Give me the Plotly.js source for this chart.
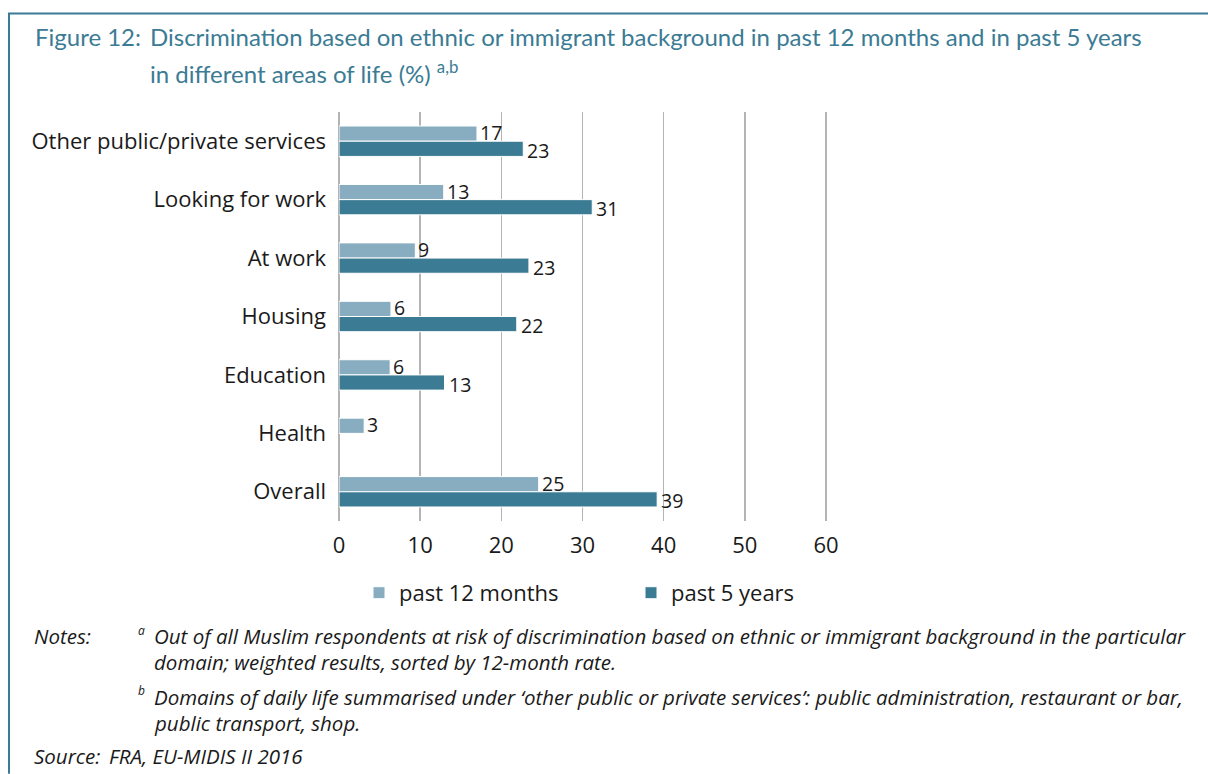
<!DOCTYPE html>
<html>
<head>
<meta charset="utf-8">
<script src="https://cdn.plot.ly/plotly-3.0.1.min.js"></script>
<style>
  html, body { margin: 0; padding: 0; background: #ffffff; }
  #chart { width: 1208px; height: 774px; }
</style>
</head>
<body>
<div id="chart"></div>
<script>
// ---- data ----
const categories = [
  "Other public/private services",
  "Looking for work",
  "At work",
  "Housing",
  "Education",
  "Health",
  "Overall"
];
const past12Months = [17.0, 12.9, 9.4, 6.4, 6.3, 3.1, 24.6];
const past12Labels = ["17", "13", "9", "6", "6", "3", "25"];
const past5Years = [22.7, 31.2, 23.4, 21.9, 13.0, null, 39.2];
const past5Labels = ["23", "31", "23", "22", "13", null, "39"];
const seriesNames = ["past 12 months", "past 5 years"];
const xTicks = [0, 10, 20, 30, 40, 50, 60];

// ---- layout helpers (pixel -> paper) ----
const L = 339, R = 832, T = 111.5, B = 521;
const W = 1208, H = 774;
const unitPx = (826 - 339) / 60;       // pixels per percentage point
const xMax = (R - L) / unitPx;          // so that 60 sits a little inside the plot edge
const px = x => (x - L) / (R - L);
const py = y => (B - y) / (B - T);
const bargap = 0.48;
const bandPx = (B - T) / categories.length;
const barPx = bandPx * (1 - bargap) / 2;

const teal = "#3b7b94";
const light = "#88adc0";
const textCol = "#1a1a1a";

const labelFont = { family: "Open Sans", size: 19.5, color: textCol };

const traces = [
  {
    type: "bar", orientation: "h",
    name: seriesNames[0], legend: "legend",
    y: categories, x: past12Months,
    marker: { color: light, line: { color: "#ffffff", width: 1 } },
    hoverinfo: "x+y"
  },
  {
    type: "bar", orientation: "h",
    name: seriesNames[1], legend: "legend2",
    y: categories, x: past5Years,
    marker: { color: teal, line: { color: "#ffffff", width: 1 } },
    hoverinfo: "x+y"
  }
];

const titleFont = { family: "Lato", size: 24, color: teal };
const noteFont = { family: "Open Sans", size: 20.5, color: textCol };
const supFont = { family: "Open Sans", size: 12, color: textCol };

function ann(text, x, y, font, extra) {
  return Object.assign({
    text: text, xref: "paper", yref: "paper",
    x: px(x), y: py(y), xanchor: "left", yanchor: "middle",
    showarrow: false, font: font, align: "left"
  }, extra || {});
}

// value labels, anchored to the data (bar end), offset to each bar of the group
const valueLabels = [];
categories.forEach((c, i) => {
  if (past12Labels[i] !== null && past12Months[i] !== null) {
    valueLabels.push({
      text: past12Labels[i], xref: "x", yref: "y", x: past12Months[i], y: c,
      xanchor: "left", yanchor: "middle", showarrow: false, font: labelFont,
      xshift: 1, yshift: barPx / 2 + 1
    });
  }
  if (past5Labels[i] !== null && past5Years[i] !== null) {
    valueLabels.push({
      text: past5Labels[i], xref: "x", yref: "y", x: past5Years[i], y: c,
      xanchor: "left", yanchor: "middle", showarrow: false, font: labelFont,
      xshift: 2, yshift: -barPx / 2 - 1.5
    });
  }
});

const annotations = valueLabels.concat([
  ann("Figure 12:", 33, 36, titleFont),
  ann("Discrimination based on ethnic or immigrant background in past 12 months and in past 5 years", 148, 36, titleFont),
  ann("in different areas of life (%) <sup>a,b</sup>", 148, 71, titleFont),
  ann("<i>Notes:</i>", 32, 636, noteFont),
  ann("<i>a</i>", 136, 631, supFont),
  ann("<i>Out of all Muslim respondents at risk of discrimination based on ethnic or immigrant background in the particular</i>", 152, 636, noteFont),
  ann("<i>domain; weighted results, sorted by 12-month rate.</i>", 152, 662, noteFont),
  ann("<i>b</i>", 136, 691, supFont),
  ann("<i>Domains of daily life summarised under ‘other public or private services’: public administration, restaurant or bar,</i>", 152, 697, noteFont),
  ann("<i>public transport, shop.</i>", 152, 723, noteFont),
  ann("<i>Source:</i>", 32, 756, noteFont),
  ann("<i>FRA, EU-MIDIS II 2016</i>", 107, 756, noteFont)
]);

const shapes = [
  { type: "line", xref: "paper", yref: "paper", x0: px(8), x1: px(W), y0: py(13), y1: py(13),
    line: { color: teal, width: 2 } },
  { type: "line", xref: "paper", yref: "paper", x0: px(9), x1: px(9), y0: py(13), y1: py(H),
    line: { color: teal, width: 2 } }
];

const legendFont = { family: "Open Sans", size: 22, color: textCol };

const layout = {
  width: W, height: H,
  margin: { l: L, r: W - R, t: T, b: H - B, pad: 0 },
  paper_bgcolor: "#ffffff", plot_bgcolor: "#ffffff",
  barmode: "group", bargap: bargap, bargroupgap: 0,
  showlegend: true,
  legend: {
    orientation: "h", x: px(359), xanchor: "left", y: py(593), yanchor: "middle",
    font: legendFont, bgcolor: "rgba(0,0,0,0)"
  },
  legend2: {
    orientation: "h", x: px(631), xanchor: "left", y: py(593), yanchor: "middle",
    font: legendFont, bgcolor: "rgba(0,0,0,0)"
  },
  xaxis: {
    range: [0, xMax], tickvals: xTicks, ticktext: xTicks.map(String),
    showgrid: true, gridcolor: "#b4b4b4", gridwidth: 1.5,
    zeroline: true, zerolinecolor: "#b4b4b4", zerolinewidth: 1.5,
    showline: false, ticks: "", ticklabelstandoff: 9,
    tickfont: { family: "Open Sans", size: 22, color: textCol },
    fixedrange: true
  },
  yaxis: {
    type: "category", categoryorder: "array", categoryarray: categories,
    autorange: "reversed", showgrid: false, zeroline: false, showline: false,
    ticks: "", ticklabelstandoff: 12,
    tickfont: { family: "Open Sans", size: 22, color: textCol },
    fixedrange: true
  },
  annotations: annotations,
  shapes: shapes,
  font: { family: "Open Sans" }
};

Plotly.newPlot("chart", traces, layout, { displayModeBar: false, staticPlot: true });
</script>
</body>
</html>
